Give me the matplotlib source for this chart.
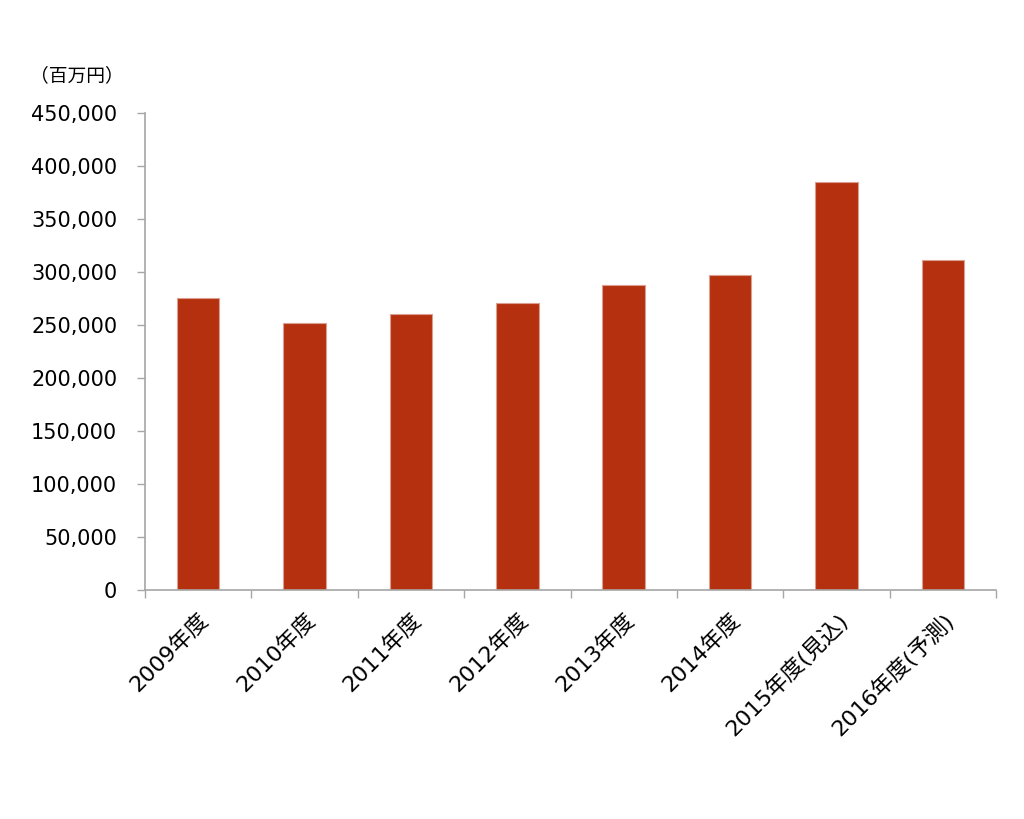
import matplotlib.pyplot as plt
from matplotlib.ticker import FuncFormatter, MultipleLocator

plt.rcParams['font.family'] = ['DejaVu Sans', 'Noto Sans CJK JP']

years = ['2009年度', '2010年度', '2011年度', '2012年度', '2013年度',
         '2014年度', '2015年度(見込)', '2016年度(予測)']
values = [275500, 252000, 260000, 271000, 287500, 297500, 385000, 311500]

bar_color = '#B5300F'
axis_color = '#A6A6A6'

fig = plt.figure(figsize=(10.24, 8.19), dpi=100)
ax = fig.add_axes([0.1416, 0.2796, 0.8311, 0.5824])

x = list(range(len(years)))
ax.bar(x, values, width=0.4, color=bar_color, edgecolor='#D9A090', linewidth=0.8)

ax.set_xlim(-0.5, len(years) - 0.5)
ax.set_ylim(0, 450000)

ax.yaxis.set_major_locator(MultipleLocator(50000))
ax.yaxis.set_major_formatter(FuncFormatter(lambda v, p: f'{int(v):,}'))
ax.tick_params(axis='y', labelsize=15, length=6, width=1, color=axis_color, pad=14)

ax.set_xticks(x)
ax.set_xticklabels(years, rotation=45, ha='right', rotation_mode='anchor', fontsize=16)
ax.tick_params(axis='x', which='major', length=0, pad=14)
ax.set_xticks([i - 0.5 for i in range(len(years) + 1)], minor=True)
ax.tick_params(axis='x', which='minor', length=6, width=1, color=axis_color)

for side in ['top', 'right']:
    ax.spines[side].set_visible(False)
for side in ['left', 'bottom']:
    ax.spines[side].set_color(axis_color)
    ax.spines[side].set_linewidth(1.2)

fig.text(0.029, 0.908, '（百万円）', fontsize=13.5, va='center', ha='left')

fig.savefig('out.png', dpi=100)
